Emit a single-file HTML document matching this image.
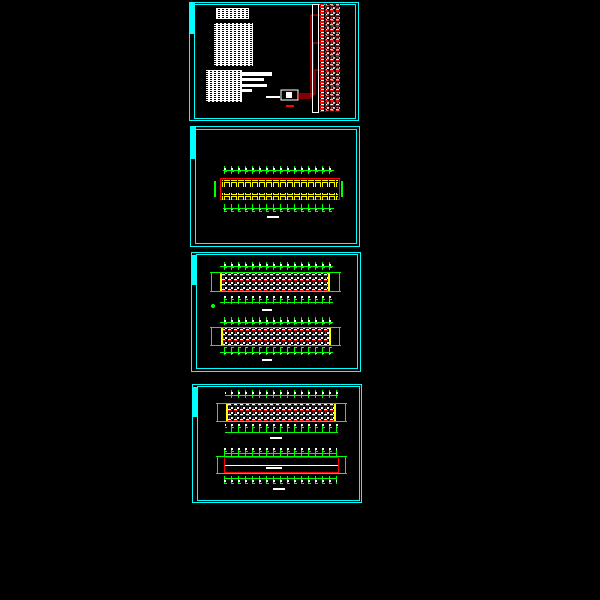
<!DOCTYPE html>
<html><head><meta charset="utf-8"><style>html,body{margin:0;padding:0;background:#000}svg{display:block}</style></head>
<body>
<svg width="600" height="600" viewBox="0 0 600 600" xmlns="http://www.w3.org/2000/svg" shape-rendering="crispEdges">
<defs>
<pattern id="tk" width="7" height="8" patternUnits="userSpaceOnUse"><rect x="0" y="0" width="1" height="8" fill="#0f0"/><rect x="0" y="0" width="2" height="2" fill="#fff"/><rect x="0" y="3" width="3" height="1" fill="#0f0"/></pattern>
<pattern id="yc" width="7" height="7" patternUnits="userSpaceOnUse"><rect x="0.5" y="0.5" width="5" height="5" fill="none" stroke="#ff0" stroke-width="1"/></pattern>
<pattern id="rm" width="6" height="5" patternUnits="userSpaceOnUse"><rect width="6" height="5" fill="#000"/><rect x="0" y="0" width="4" height="1" fill="#f00"/><rect x="3" y="2" width="2" height="2" fill="#fff"/><rect x="1" y="2" width="1" height="3" fill="#f00"/><rect x="5" y="0" width="1" height="3" fill="#00f"/><rect x="0" y="4" width="3" height="1" fill="#fff"/></pattern>
<pattern id="rd" width="5" height="3" patternUnits="userSpaceOnUse"><rect width="4" height="2" fill="#f00"/><rect y="2" x="1" width="3" height="1" fill="#fff"/></pattern>
<pattern id="tx" width="4" height="2" patternUnits="userSpaceOnUse"><rect width="4" height="1" fill="#fff"/><rect y="1" width="2" height="1" fill="#fff"/></pattern>
</defs>
<g fill="none" stroke="#0ff" stroke-width="1">
<rect x="189.5" y="2.5" width="169" height="118"/><rect x="194.5" y="4.5" width="161" height="114"/>
<rect x="190.5" y="126.5" width="169" height="120"/><rect x="195.5" y="129.5" width="161" height="114"/>
<rect x="191.5" y="252.5" width="169" height="119"/><rect x="196.5" y="254.5" width="161" height="114"/>
<rect x="192.5" y="384.5" width="169" height="118"/><rect x="197.5" y="386.5" width="162" height="114"/>
</g>
<g fill="#0ff"><rect x="190" y="3" width="5" height="31"/><rect x="191" y="127" width="5" height="32"/><rect x="192" y="255" width="5" height="30"/><rect x="193" y="387" width="5" height="30"/></g>
<!-- sheet1 -->
<rect x="216" y="8" width="33" height="11" fill="url(#tx)"/>
<rect x="214" y="23" width="39" height="43" fill="url(#tx)"/>
<rect x="206" y="70" width="36" height="32" fill="url(#tx)"/>
<rect x="242" y="72" width="30" height="4" fill="#fff"/><rect x="242" y="78" width="22" height="3" fill="#fff"/><rect x="242" y="84" width="25" height="3" fill="#fff"/><rect x="240" y="89" width="12" height="3" fill="#fff"/>
<rect x="281" y="90" width="17" height="10" fill="none" stroke="#fff"/>
<rect x="286" y="92" width="6" height="6" fill="#fff"/>
<rect x="266" y="96" width="14" height="2" fill="#fff"/>
<g fill="none" stroke="#f00"><path d="M298 98 H311 V15 H320"/><path d="M298 96 H313 V43 H320"/><path d="M298 94 H315 V70 H320"/></g>
<rect x="286" y="105" width="8" height="2" fill="#f00"/>
<g><rect x="318" y="4" width="22" height="108" fill="url(#rd)"/><rect x="312.5" y="4.5" width="6" height="108" fill="none" stroke="#fff"/><rect x="326" y="4" width="14" height="108" fill="url(#rm)" opacity="0.7"/></g>
<!-- sheet2 -->
<rect x="223" y="166" width="111" height="8" fill="url(#tk)"/><rect x="223" y="170" width="111" height="1" fill="#0f0"/>
<rect x="223" y="204" width="111" height="8" fill="url(#tk)"/><rect x="223" y="208" width="111" height="1" fill="#0f0"/>
<rect x="220.5" y="178.5" width="119" height="21" fill="none" stroke="#f00"/>
<rect x="222" y="180" width="116" height="7" fill="url(#yc)"/><rect x="222" y="193" width="116" height="7" fill="url(#yc)"/>
<rect x="214" y="181" width="2" height="16" fill="#0f0"/><rect x="341" y="181" width="2" height="16" fill="#0f0"/>
<rect x="267" y="216" width="12" height="2" fill="#fff"/>
<!-- sheet3 -->
<rect x="220" y="262" width="113" height="8" fill="url(#tk)"/><rect x="220" y="266" width="113" height="1" fill="#0f0"/>
<rect x="210" y="272" width="131" height="1" fill="#0f0"/><rect x="210" y="291" width="131" height="1" fill="#0f0"/>
<rect x="211" y="272" width="1" height="20" fill="#0f0"/><rect x="339" y="272" width="1" height="20" fill="#0f0"/>
<rect x="220" y="273" width="110" height="18" fill="url(#rm)"/><rect x="220" y="273" width="2" height="18" fill="#ff0"/><rect x="328" y="273" width="2" height="18" fill="#ff0"/>
<rect x="220" y="296" width="113" height="8" fill="url(#tk)"/><rect x="220" y="302" width="113" height="1" fill="#0f0"/>
<rect x="262" y="309" width="10" height="2" fill="#fff"/><circle cx="213" cy="306" r="2" fill="#0f0"/>
<rect x="220" y="317" width="113" height="8" fill="url(#tk)"/><rect x="220" y="322" width="113" height="1" fill="#0f0"/>
<rect x="210" y="327" width="131" height="1" fill="#0f0"/><rect x="210" y="345" width="131" height="1" fill="#0f0"/>
<rect x="211" y="327" width="1" height="19" fill="#0f0"/><rect x="339" y="327" width="1" height="19" fill="#0f0"/>
<rect x="221" y="328" width="110" height="17" fill="url(#rm)"/><rect x="221" y="328" width="2" height="17" fill="#ff0"/><rect x="329" y="328" width="2" height="17" fill="#ff0"/>
<rect x="220" y="347" width="113" height="8" fill="url(#tk)"/><rect x="220" y="352" width="113" height="1" fill="#0f0"/>
<rect x="262" y="359" width="10" height="2" fill="#fff"/>
<!-- sheet4 -->
<rect x="225" y="390" width="113" height="8" fill="url(#tk)"/><rect x="225" y="395" width="113" height="1" fill="#0f0"/>
<rect x="216" y="403" width="131" height="1" fill="#0f0"/><rect x="216" y="421" width="131" height="1" fill="#0f0"/>
<rect x="217" y="403" width="1" height="19" fill="#0f0"/><rect x="345" y="403" width="1" height="19" fill="#0f0"/>
<rect x="226" y="404" width="110" height="17" fill="url(#rm)"/><rect x="226" y="404" width="2" height="17" fill="#ff0"/><rect x="334" y="404" width="2" height="17" fill="#ff0"/>
<rect x="225" y="424" width="113" height="8" fill="url(#tk)"/><rect x="225" y="432" width="113" height="1" fill="#0f0"/>
<rect x="270" y="437" width="12" height="2" fill="#fff"/>
<rect x="224" y="448" width="113" height="8" fill="url(#tk)"/><rect x="224" y="453" width="113" height="1" fill="#0f0"/>
<rect x="216" y="456" width="131" height="1" fill="#0f0"/><rect x="216" y="473" width="131" height="1" fill="#0f0"/>
<rect x="217" y="456" width="1" height="18" fill="#0f0"/><rect x="345" y="456" width="1" height="18" fill="#0f0"/>
<rect x="224.5" y="457.5" width="114" height="15" fill="none" stroke="#f00"/>
<rect x="225" y="465" width="113" height="1" fill="#fff"/>
<rect x="266" y="467" width="16" height="2" fill="#fff"/>
<rect x="224" y="476" width="113" height="8" fill="url(#tk)"/><rect x="224" y="478" width="113" height="1" fill="#0f0"/>
<rect x="273" y="488" width="12" height="2" fill="#fff"/>
</svg>
</body></html>
